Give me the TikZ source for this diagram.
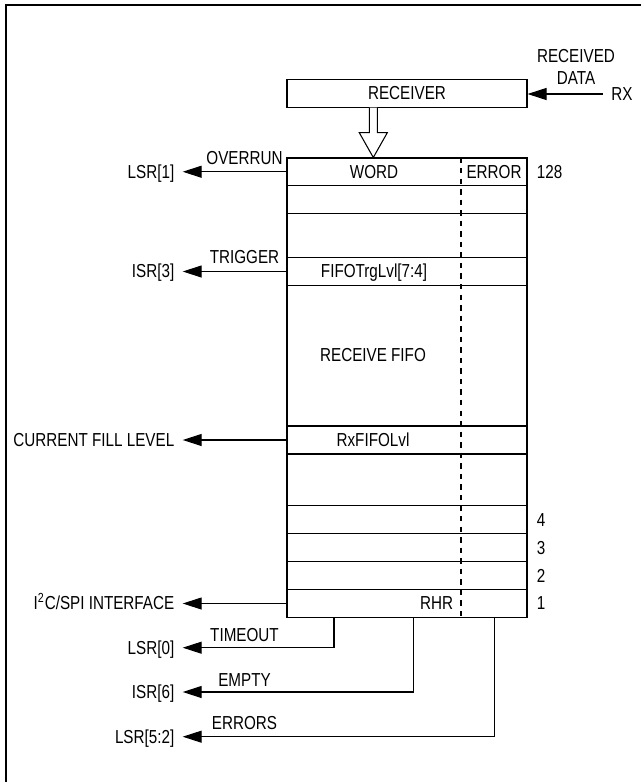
\documentclass[tikz,border=0pt]{standalone}
\usepackage{fontspec}
\setmainfont{Liberation Sans}[FakeStretch=0.81]
\usetikzlibrary{arrows.meta}

\begin{document}
\begin{tikzpicture}[font=\fontsize{10.7pt}{12.3pt}\selectfont, line width=0.6pt,
  tag/.style={inner sep=1pt, text height=0.97em, text depth=0.25em},
  cell/.style={draw, tag, inner sep=0pt, minimum width=4.8cm, minimum height=0.556cm},
  sig/.style={tag, inner xsep=4.5pt, anchor=east},
  feed/.style={-{Triangle[length=0.38cm,width=0.24cm]}},
  label distance=4pt, every label/.style={tag}]
\useasboundingbox (0cm,0cm) rectangle (12.82cm,-15.64cm);
\draw[line width=1pt] (0.116cm,-15.64cm) -- (0.116cm,-0.098cm) -- (12.82cm,-0.098cm);

\draw (8.14cm,-1.87cm) node (rcv) [cell, minimum height=0.568cm] {RECEIVER};
\draw (12.44cm,-1.88cm) node (rx) [tag, inner xsep=4.5pt] {RX};
\draw (11.52cm,-1.334cm) node (data) [align=center, inner sep=0pt] {RECEIVED\\DATA};
\draw[feed] (rx.west) -- (rx.west -| rcv.east);
\draw[fill=white] (7.386cm,-2.154cm) -- (7.386cm,-2.654cm) -- (7.186cm,-2.654cm) -- (7.466cm,-3.15cm)
  -- (7.746cm,-2.654cm) -- (7.546cm,-2.654cm) -- (7.546cm,-2.154cm);

\draw (8.14cm,-3.435cm) node (r128) [cell, minimum height=0.55cm, label=right:128] {};
\draw (8.14cm,-3.988cm) node (r127) [cell] {};
\draw (8.14cm,-4.71cm) node (gap1) [cell, minimum height=0.888cm] {};
\draw (8.14cm,-5.43cm) node (rtrg) [cell, minimum height=0.552cm] {};
\draw (8.14cm,-7.113cm) node (rfifo) [cell, minimum height=2.814cm] {};
\draw (8.14cm,-8.80cm) node (rlvl) [cell, minimum height=0.56cm] {};
\draw (8.14cm,-9.597cm) node (gap2) [cell, minimum height=1.034cm] {};
\draw (8.14cm,-10.394cm) node (r4) [cell, minimum height=0.56cm, label=right:4] {};
\draw (8.14cm,-10.954cm) node (r3) [cell, minimum height=0.56cm, label=right:3] {};
\draw (8.14cm,-11.514cm) node (r2) [cell, minimum height=0.56cm, label=right:2] {};
\draw (8.14cm,-12.07cm) node (r1) [cell, minimum height=0.552cm, label=right:1] {};
\draw[dash pattern=on 3.1pt off 2.9pt] (9.22cm,0cm |- r128.north) -- (9.22cm,0cm |- r1.south);

\draw (7.48cm,-3.435cm) node (word) [tag] {WORD};
\draw (9.88cm,-3.435cm) node (err) [tag] {ERROR};
\draw (7.48cm,-5.43cm) node (trg) [tag] {FIFOTrgLvl[7:4]};
\draw (7.46cm,-7.10cm) node (fifo) [tag] {RECEIVE FIFO};
\draw (7.46cm,-8.80cm) node (lvl) [tag] {RxFIFOLvl};
\draw (8.734cm,-12.07cm) node (rhr) [tag] {RHR};

\draw (3.654cm,-3.435cm) node (lsr1) [sig] {LSR[1]};
\draw (4.89cm,-3.166cm) node (ovr) [tag] {OVERRUN};
\draw[feed] (r128.west) -- (lsr1.east);

\draw (3.654cm,-5.43cm) node (isr3) [sig] {ISR[3]};
\draw (4.89cm,-5.15cm) node (trig) [tag] {TRIGGER};
\draw[feed] (rtrg.west) -- (isr3.east);

\draw (3.654cm,-8.80cm) node (fill) [sig] {CURRENT FILL LEVEL};
\draw[feed] (rlvl.west) -- (fill.east);

\draw (3.654cm,-12.07cm) node (host) [sig] {I\textsuperscript{2}C/SPI INTERFACE};
\draw[feed] (r1.west) -- (host.east);

\draw (3.654cm,-12.954cm) node (lsr0) [sig] {LSR[0]};
\draw (4.89cm,-12.694cm) node (tmo) [tag] {TIMEOUT};
\draw[feed] (6.68cm,0cm |- r1.south) |- (lsr0.east);

\draw (3.654cm,-13.84cm) node (isr6) [sig] {ISR[6]};
\draw (4.89cm,-13.6cm) node (emp) [tag] {EMPTY};
\draw[feed] (8.266cm,0cm |- r1.south) |- (isr6.east);

\draw (3.654cm,-14.734cm) node (lsr52) [sig] {LSR[5:2]};
\draw (4.89cm,-14.466cm) node (errs) [tag] {ERRORS};
\draw[feed] (9.894cm,0cm |- r1.south) |- (lsr52.east);
\end{tikzpicture}
\end{document}
